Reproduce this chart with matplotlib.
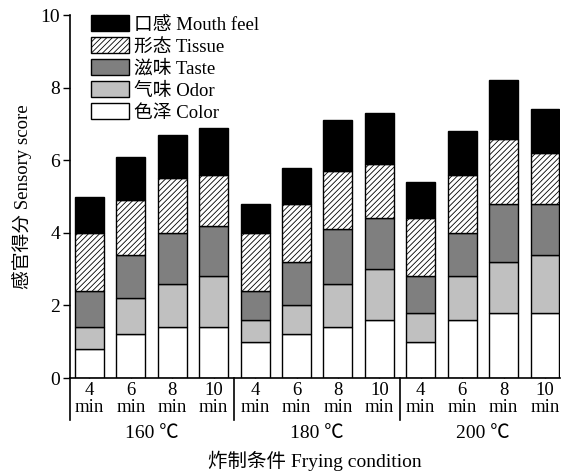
import numpy as np
import matplotlib.pyplot as plt
from matplotlib.patches import Patch

plt.rcParams['font.family'] = ['Liberation Serif', 'Noto Sans CJK SC']
plt.rcParams['hatch.linewidth'] = 0.6
plt.rcParams['hatch.color'] = '#555555'

temps = ['160 ℃', '180 ℃', '200 ℃']
times = ['4', '6', '8', '10']

# cumulative heights, 12 bars
color_top = [0.8, 1.2, 1.4, 1.4, 1.0, 1.2, 1.4, 1.6, 1.0, 1.6, 1.8, 1.8]
odor_top = [1.4, 2.2, 2.6, 2.8, 1.6, 2.0, 2.6, 3.0, 1.8, 2.8, 3.2, 3.4]
taste_top = [2.4, 3.4, 4.0, 4.2, 2.4, 3.2, 4.1, 4.4, 2.8, 4.0, 4.8, 4.8]
tissue_top = [4.0, 4.9, 5.5, 5.6, 4.0, 4.8, 5.7, 5.9, 4.4, 5.6, 6.6, 6.2]
mouth_top = [5.0, 6.1, 6.7, 6.9, 4.8, 5.8, 7.1, 7.3, 5.4, 6.8, 8.2, 7.4]

layers = [
    ('色泽 Color', color_top, 'white', None),
    ('气味 Odor', odor_top, '#c0c0c0', None),
    ('滋味 Taste', taste_top, '#7f7f7f', None),
    ('形态 Tissue', tissue_top, 'white', '//////'),
    ('口感 Mouth feel', mouth_top, 'black', None),
]

fig = plt.figure(figsize=(5.61, 4.73), dpi=100)
ax = fig.add_axes([0.1248, 0.2008, 0.874, 0.7672])

x = np.arange(len(color_top))
bottom = np.zeros(len(x))
handles = []
for name, top, fc, hatch in layers:
    top = np.array(top)
    ax.bar(x, top - bottom, bottom=bottom, width=0.7, color=fc,
           edgecolor='black', linewidth=1.0, hatch=hatch, zorder=2)
    handles.append(Patch(facecolor=fc, edgecolor='black', hatch=hatch,
                         linewidth=1.0, label=name))
    bottom = top

ax.set_xlim(-0.47, 11.37)
ax.set_ylim(0, 10)
ax.set_yticks([0, 2, 4, 6, 8, 10])
ax.tick_params(axis='y', direction='out', length=5, width=1, labelsize=14, pad=2)
ax.set_xticks(x)
ax.set_xticklabels([t + '\nmin' for g in temps for t in times],
                   fontsize=13.5, linespacing=0.95)
ax.tick_params(axis='x', direction='in', length=4, width=1, pad=3)

for s in ['top', 'right']:
    ax.spines[s].set_visible(False)
ax.spines['left'].set_linewidth(1.2)
ax.spines['bottom'].set_linewidth(1.2)

trans = ax.get_xaxis_transform()
for xs in [-0.47, 3.5, 7.5]:
    ax.plot([xs, xs], [0, -0.116], transform=trans, color='black',
            lw=1.2, clip_on=False)
for i, g in enumerate(temps):
    ax.text(i * 4 + 1.5, -0.152, g, transform=trans, ha='center', va='center',
            fontsize=14)

ax.text(5.45, -0.228, '炸制条件 Frying condition', transform=trans,
        ha='center', va='center', fontsize=14)
ax.set_ylabel('感官得分 Sensory score', fontsize=13.5, labelpad=6)

ax.legend(handles=handles[::-1], loc='upper left', bbox_to_anchor=(0.02, 1.03),
          frameon=False, fontsize=13.5, handlelength=2.0, handleheight=0.9,
          handletextpad=0.3, labelspacing=0.2, borderaxespad=0.2)

fig.savefig('out.png', dpi=100)
